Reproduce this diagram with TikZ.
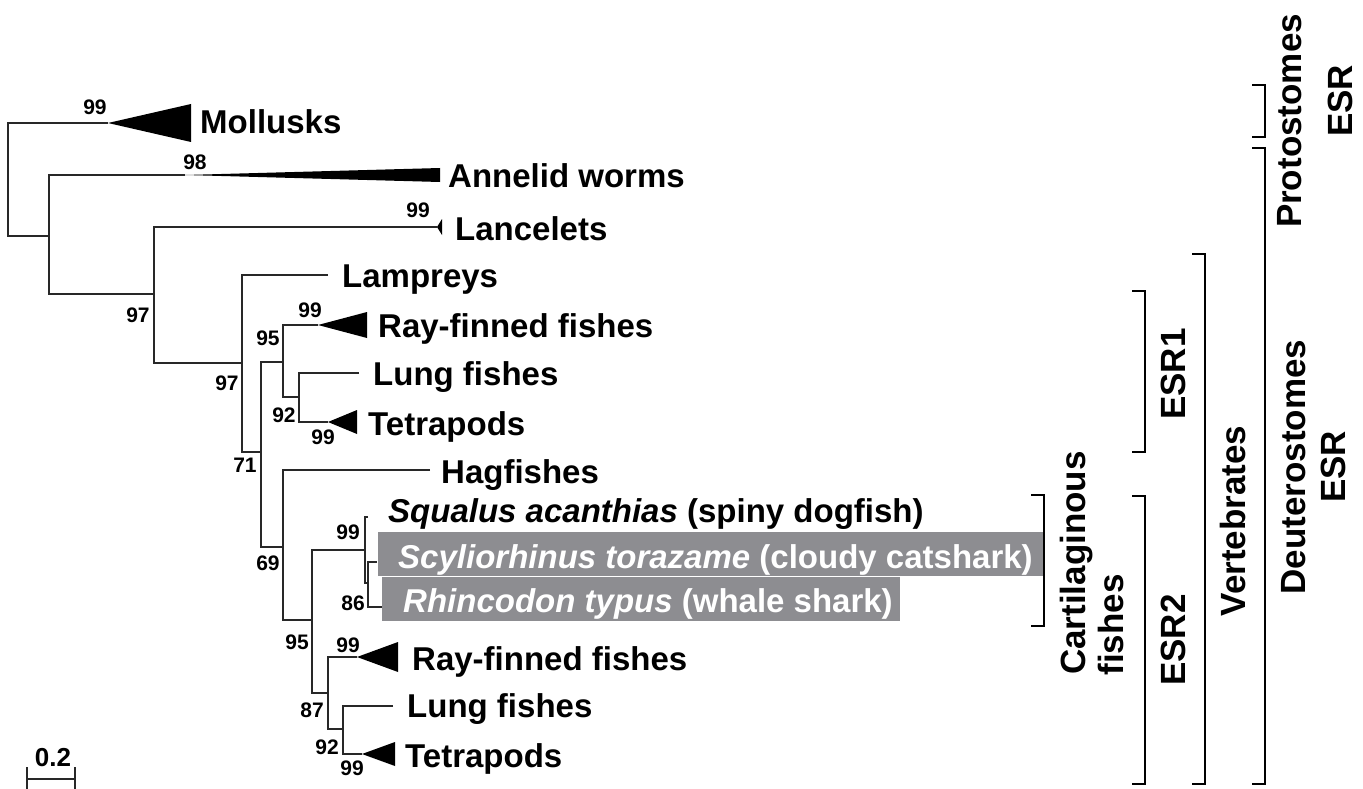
\documentclass[tikz,border=0pt]{standalone}
\usepackage{fontspec}
\setmainfont{Liberation Sans}
\usepackage{tikz}
\usetikzlibrary{positioning}
\definecolor{branchgray}{RGB}{40,40,40}
\definecolor{boxgray}{RGB}{141,141,145}

\begin{document}
\begin{tikzpicture}[
    x=1pt, y=-1pt,
    branch/.style = {draw=branchgray,line width=2.4pt},
    taxon/.style  = {anchor=base west,inner sep=0pt,font=\fontsize{33}{36}\selectfont\bfseries},
    boot/.style   = {inner sep=0pt,font=\fontsize{21}{23}\selectfont\bfseries},
    group/.style  = {anchor=base,rotate=90,inner sep=0pt,font=\fontsize{35}{38}\selectfont\bfseries},
    brk/.style    = {draw,line width=2.8pt}
  ]
  \useasboundingbox (0,0) rectangle (1363,789);

  % internal nodes
  \coordinate (R)   at (8,180);
  \coordinate (N1)  at (49,236);
  \coordinate (N2)  at (154,294);
  \coordinate (N3)  at (242,363);
  \coordinate (N4)  at (261,452);
  \coordinate (N5)  at (283,362);
  \coordinate (N6)  at (299,397);
  \coordinate (N7)  at (283,547);
  \coordinate (N8)  at (312,620);
  \coordinate (N9)  at (365,550);
  \coordinate (N10) at (368,583);
  \coordinate (N11) at (328,693);
  \coordinate (N12) at (343,729);

  % tips
  \coordinate (Moll)  at (108,123);
  \coordinate (Ann)   at (185,175);
  \coordinate (Lanc)  at (437,227);
  \coordinate (Lamp)  at (328,275);
  \coordinate (Ray1)  at (318,325);
  \coordinate (Lung1) at (359,373);
  \coordinate (Tet1)  at (328,422);
  \coordinate (Hag)   at (430,470);
  \coordinate (Squ)   at (368,517);
  \coordinate (Scy)   at (377,562);
  \coordinate (Rhi)   at (382,607);
  \coordinate (Ray2)  at (357,657);
  \coordinate (Lung2) at (393,706);
  \coordinate (Tet2)  at (362,754);

  \fill[boxgray] (378,532) rectangle (1043,576);
  \fill[boxgray] (382,577) rectangle (900,621);

  \foreach \p/\a/\b in {R/Moll/N1, N1/Ann/N2, N2/Lanc/N3, N3/Lamp/N4, N4/N5/N7, N5/Ray1/N6,
                        N6/Lung1/Tet1, N7/Hag/N8, N8/N9/N11, N9/Squ/N10, N10/Scy/Rhi,
                        N11/Ray2/N12, N12/Lung2/Tet2}
    \draw[branch] (\a) -| (\p) |- (\b);

  % collapsed clades
  \foreach \t/\l/\h in {Moll/83/19, Ann/255/7, Lanc/5/8, Ray1/49/13, Tet1/29/12, Ray2/41/15, Tet2/33/12}
    \fill (\t) -- ++(\l,-\h) -- ++(0,2*\h) -- cycle;

  \foreach \n/\x/\y/\t in {Moll/200/134/Mollusks, Ann/448/187/Annelid worms, Lanc/455/240/Lancelets,
                           Lamp/342/287/Lampreys, Ray1/378/337/Ray-finned fishes, Lung1/373/385/Lung fishes,
                           Tet1/368/435/Tetrapods, Hag/441/483/Hagfishes, Ray2/412/670/Ray-finned fishes,
                           Lung2/407/717/Lung fishes, Tet2/405/767/Tetrapods}
    \node[taxon] (t\n) at (\x,\y) {\t};
  \node[taxon] (tSqu) at (388,522) {\textit{Squalus acanthias} (spiny dogfish)};
  \node[taxon,text=white] (tScy) at (398,568) {\textit{Scyliorhinus torazame} (cloudy catshark)};
  \node[taxon,text=white] (tRhi) at (403,612) {\textit{Rhincodon typus} (whale shark)};

  % bootstrap values
  \foreach \n/\x/\y/\v in {a/95/107/99, b/195/162/98, c/418/210/99, d/138/315/97, e/227/383/97,
                           f/268/338/95, g/310/310/99, h/284/415/92, i/323/437/99, j/245/465/71,
                           k/268/563/69, l/348/532/99, m/353/603/86, n/297/642/95, o/348/645/99,
                           p/312/710/87, q/327/747/92, r/352/768/99}
    \node[boot] (b\n) at (\x,\y) {\v};

  % scale bar
  \coordinate (S1) at (27,779);
  \coordinate (S2) at (75,779);
  \draw[branch] (S1) -- (S2);
  \draw[branch] (27,767) -- (27,789);
  \draw[branch] (75,767) -- (75,789);
  \node[anchor=base,inner sep=0pt,font=\fontsize{26}{28}\selectfont\bfseries] (scl) at (53,766) {0.2};

  % brackets
  \foreach \x/\t/\b in {1044/495/626, 1145/291/452, 1145/496/784, 1205/254/784, 1265/85/137, 1265/148/784}
    \draw[brk] (\x-13,\t) -- (\x,\t) -- (\x,\b) -- (\x-13,\b);

  \node[group] (gCart) at (1085,563) {Cartilaginous};
  \node[group] (gFish) at (1123,625) {fishes};
  \node[group] (gE1)   at (1185,374) {ESR1};
  \node[group] (gE2)   at (1185,640) {ESR2};
  \node[group] (gVert) at (1245,521) {Vertebrates};
  \node[group] (gDeut) at (1305,467) {Deuterostomes};
  \node[group] (gDE)   at (1345,467) {ESR};
  \node[group] (gProt) at (1301,121) {Protostomes};
  \node[group] (gPE)   at (1352,101) {ESR};

\end{tikzpicture}
\end{document}
